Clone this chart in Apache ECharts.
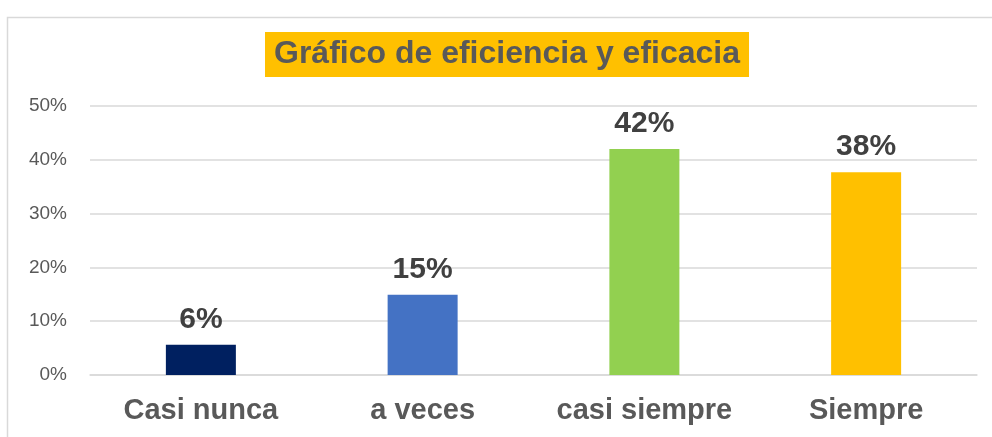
<!DOCTYPE html>
<html>
<head>
<meta charset="utf-8">
<script src="https://cdn.jsdelivr.net/npm/echarts@6/dist/echarts.min.js"></script>
<style>html,body{margin:0;padding:0;background:#fff;}#c{width:992px;height:437px;}</style>
</head>
<body>
<div id="c"></div>
<script>
const categories = ['Casi nunca', 'a veces', 'casi siempre', 'Siempre'];
const values = [5.6, 14.9, 42.0, 37.7];
const barColors = ['#002060', '#4472C4', '#92D050', '#FFC000'];
const yTicks = [0, 10, 20, 30, 40, 50];
const titleText = 'Gráfico de eficiencia y eficacia';

const chart = echarts.init(document.getElementById('c'));
chart.setOption({
  animation: false,
  backgroundColor: '#fff',
  graphic: [{
    type: 'rect', left: 5, top: 15,
    shape: { width: 1100, height: 600 },
    style: { fill: 'none', stroke: '#d9d9d9', lineWidth: 1.5 }
  }],
  title: {
    text: titleText,
    left: 265, top: 32,
    padding: [4, 9],
    backgroundColor: '#FFC000',
    textStyle: { fontFamily: 'Liberation Sans', fontSize: 32, lineHeight: 37, fontWeight: 'bold', color: '#595959' }
  },
  grid: { left: 90, right: 15, top: 106, bottom: 62 },
  xAxis: {
    type: 'category', data: categories,
    axisLine: { lineStyle: { color: '#d9d9d9', width: 1.5 } },
    axisTick: { show: false },
    axisLabel: { interval: 0, fontFamily: 'Liberation Sans', fontSize: 29, fontWeight: 'bold', color: '#595959', margin: 21 }
  },
  yAxis: {
    type: 'value', min: yTicks[0], max: yTicks[yTicks.length - 1], interval: 10,
    axisLine: { show: false }, axisTick: { show: false },
    splitLine: { lineStyle: { color: '#d9d9d9', width: 1.5 } },
    axisLabel: { fontFamily: 'Liberation Sans', fontSize: 19, color: '#595959', margin: 23, formatter: v => v + '%' }
  },
  series: [{
    type: 'bar', barWidth: 70,
    data: values.map((v, i) => ({ value: v, itemStyle: { color: barColors[i] } })),
    label: {
      show: true, position: 'top', distance: 10,
      fontFamily: 'Liberation Sans', fontSize: 30, fontWeight: 'bold', color: '#404040',
      formatter: p => Math.round(p.value) + '%'
    }
  }]
});
</script>
</body>
</html>
